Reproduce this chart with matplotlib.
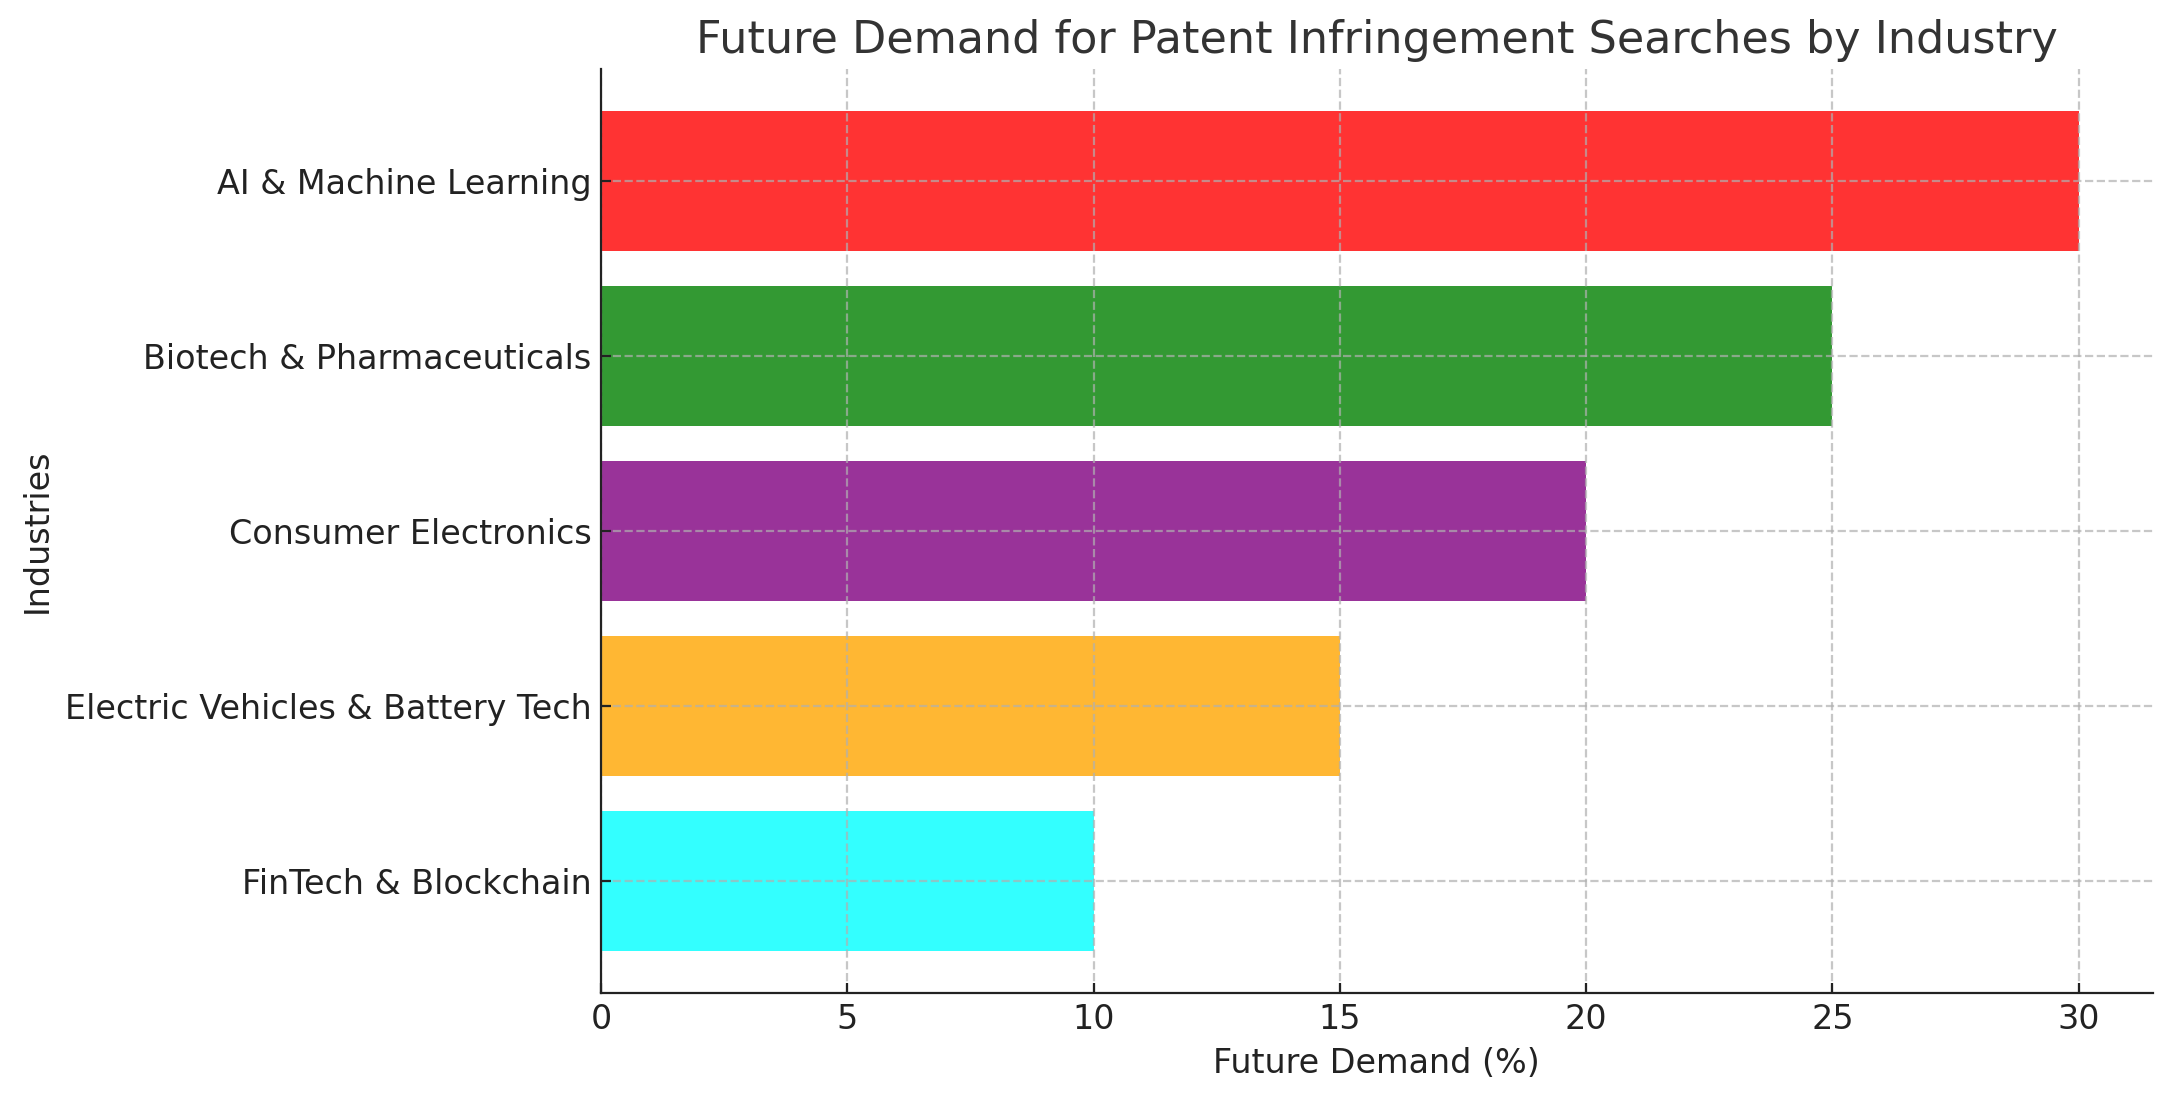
import matplotlib.pyplot as plt

industries = ['AI & Machine Learning', 'Biotech & Pharmaceuticals', 'Consumer Electronics',
              'Electric Vehicles & Battery Tech', 'FinTech & Blockchain']
demand = [30, 25, 20, 15, 10]
colors = ['red', 'green', 'purple', 'orange', 'cyan']

fig, ax = plt.subplots(figsize=(10.85, 5.505), dpi=200)

ax.barh(industries, demand, color=colors, alpha=0.8)
ax.invert_yaxis()

ax.set_title('Future Demand for Patent Infringement Searches by Industry', fontsize=16, color='#333333')
ax.set_xlabel('Future Demand (%)', fontsize=12, color='#222222')
ax.set_ylabel('Industries', fontsize=12, color='#222222')
ax.tick_params(axis='both', labelsize=12, direction='in', colors='#222222')
ax.grid(True, linestyle='--', alpha=0.7)
ax.spines['top'].set_visible(False)
ax.spines['right'].set_visible(False)
ax.spines['left'].set_color('#222222')
ax.spines['bottom'].set_color('#222222')

plt.subplots_adjust(left=0.277, right=0.992, top=0.937, bottom=0.098)
plt.savefig('out.png')
